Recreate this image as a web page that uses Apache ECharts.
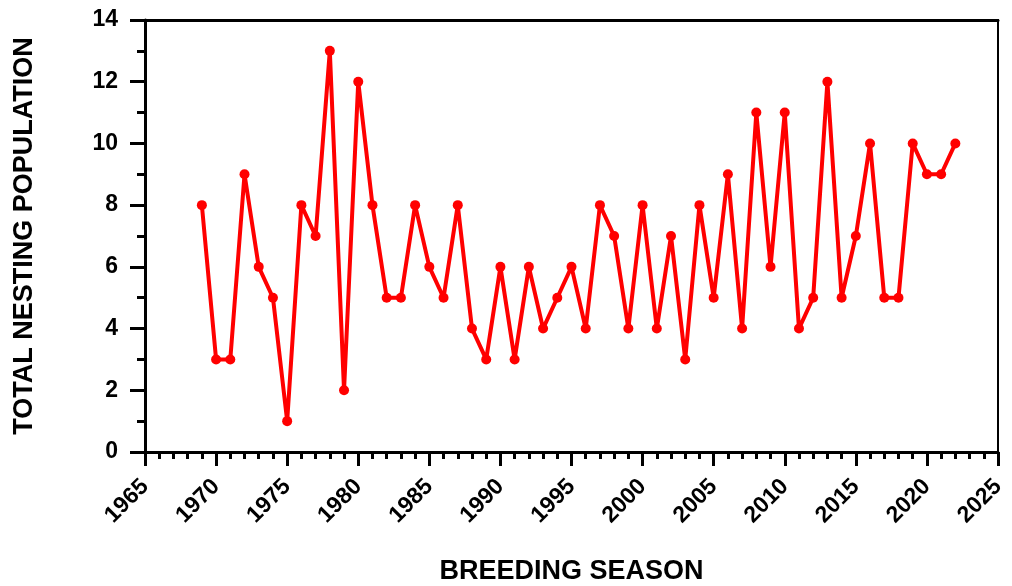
<!DOCTYPE html>
<html>
<head>
<meta charset="utf-8">
<script src="https://cdn.jsdelivr.net/npm/echarts@6/dist/echarts.min.js"></script>
<style>html,body{margin:0;padding:0;background:#fff}#c{width:1012px;height:586px}</style>
</head>
<body>
<div id="c"></div>
<script>
const years = [1969,1970,1971,1972,1973,1974,1975,1976,1977,1978,1979,1980,1981,1982,1983,1984,1985,1986,1987,1988,1989,1990,1991,1992,1993,1994,1995,1996,1997,1998,1999,2000,2001,2002,2003,2004,2005,2006,2007,2008,2009,2010,2011,2012,2013,2014,2015,2016,2017,2018,2019,2020,2021,2022];
const population = [8,3,3,9,6,5,1,8,7,13,2,12,8,5,5,8,6,5,8,4,3,6,3,6,4,5,6,4,8,7,4,8,4,7,3,8,5,9,4,11,6,11,4,5,12,5,7,10,5,5,10,9,9,10];
const xTitle = 'BREEDING SEASON';
const yTitle = 'TOTAL NESTING POPULATION';

const chart = echarts.init(document.getElementById('c'));
const font = 'Liberation Sans, Arial, sans-serif';
chart.setOption({
  animation: false,
  grid: {left: 145, right: 14, top: 20, bottom: 134, containLabel: false, outerBoundsMode: 'none',
    show: true, borderColor: '#000', borderWidth: 2, backgroundColor: 'transparent'},
  xAxis: [{
    type: 'value', min: 1965, max: 2025, interval: 5,
    name: xTitle, nameLocation: 'middle', nameGap: 106,
    nameTextStyle: {fontFamily: font, fontWeight: 'bold', fontSize: 27, color: '#000'},
    axisLine: {lineStyle: {color: '#000', width: 3}},
    axisTick: {show: true, inside: false, length: 14, lineStyle: {color: '#000', width: 3}},
    minorTick: {show: true, splitNumber: 5, length: 7, lineStyle: {color: '#000', width: 3}},
    splitLine: {show: false},
    axisLabel: {rotate: 45, fontFamily: font, fontWeight: 'bold', fontSize: 23, color: '#000', margin: 31, formatter: v => String(v)}
  }, {
    type: 'value', position: 'top', min: 1965, max: 2025,
    axisLine: {show: true, lineStyle: {color: '#000', width: 3}},
    axisTick: {show: false}, axisLabel: {show: false}, splitLine: {show: false}
  }],
  yAxis: {
    type: 'value', min: 0, max: 14, interval: 2,
    name: yTitle, nameLocation: 'middle', nameGap: 107,
    nameTextStyle: {fontFamily: font, fontWeight: 'bold', fontSize: 27, color: '#000'},
    axisLine: {show: true, lineStyle: {color: '#000', width: 3}},
    axisTick: {show: true, inside: false, length: 15, lineStyle: {color: '#000', width: 3}},
    minorTick: {show: true, splitNumber: 2, length: 8, lineStyle: {color: '#000', width: 3}},
    splitLine: {show: false},
    axisLabel: {fontFamily: font, fontWeight: 'bold', fontSize: 23, color: '#000', margin: 27}
  },
  series: [{
    type: 'line',
    data: years.map((y, i) => [y, population[i]]),
    symbol: 'circle', symbolSize: 10,
    lineStyle: {color: '#ff0000', width: 4},
    itemStyle: {color: '#ff0000'}
  }]
});
</script>
</body>
</html>
